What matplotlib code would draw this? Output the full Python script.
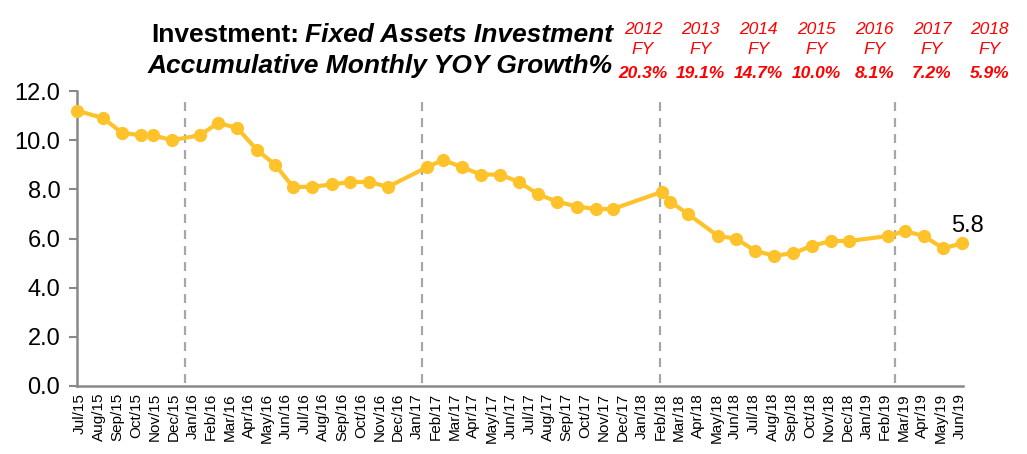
import numpy as np
import matplotlib
matplotlib.use('Agg')
import matplotlib.pyplot as plt

plt.rcParams['font.family'] = ['Liberation Sans', 'DejaVu Sans']

# Data
months = ['Jan', 'Feb', 'Mar', 'Apr', 'May', 'Jun', 'Jul', 'Aug', 'Sep', 'Oct', 'Nov', 'Dec']
tick_labels = []
for yr in range(15, 20):
    for m in months:
        tick_labels.append(f"{m}/{yr}")
tick_labels = tick_labels[6:54]  # Jul/15 .. Jun/19

# point positions (in month slots from Jul/15) and accumulated YOY growth
x_pos = [-0.16, 1.23, 2.24, 3.26, 3.90, 4.91,
         6.41, 7.37, 8.39, 9.46, 10.42, 11.38, 12.39, 13.46, 14.42, 15.44, 16.45,
         18.54, 19.39, 20.41, 21.42, 22.44, 23.45, 24.47, 25.48, 26.55, 27.56, 28.47,
         31.09, 31.52, 32.48, 34.08, 35.04, 36.06, 37.07, 38.09, 39.10, 40.12, 41.08,
         43.16, 44.07, 45.09, 46.10, 47.12]
fai_growth = [11.2, 10.9, 10.3, 10.2, 10.2, 10.0,
              10.2, 10.7, 10.5, 9.6, 9.0, 8.1, 8.1, 8.2, 8.3, 8.3, 8.1,
              8.9, 9.2, 8.9, 8.6, 8.6, 8.3, 7.8, 7.5, 7.3, 7.2, 7.2,
              7.9, 7.5, 7.0, 6.1, 6.0, 5.5, 5.3, 5.4, 5.7, 5.9, 5.9,
              6.1, 6.3, 6.1, 5.6, 5.8]
year_lines = [5.61, 18.27, 30.98, 43.54]

fy_years = ['2012', '2013', '2014', '2015', '2016', '2017', '2018']
fy_growth = ['20.3%', '19.1%', '14.7%', '10.0%', '8.1%', '7.2%', '5.9%']

W, H = 1027, 454
fig = plt.figure(figsize=(W / 100, H / 100), dpi=100, facecolor='white')
ax = fig.add_axes([77 / W, 1 - 386 / H, (963 - 77) / W, (386 - 91) / H])

gold = '#FEC22A'
for xv in year_lines:
    ax.axvline(xv, ymin=0.01, ymax=0.985, color='#A6A6A6', linewidth=1.6,
               linestyle=(0, (4, 3.2)), zorder=1)
ax.plot(x_pos, fai_growth, color=gold, linewidth=3, marker='o', markersize=8.5,
        markeredgecolor=gold, clip_on=False, zorder=3)
ax.text(x_pos[-1] - 0.6, fai_growth[-1] + 0.27, f"{fai_growth[-1]:.1f}", fontsize=17,
        ha='left', va='bottom', color='black')

ax.set_xlim(-0.16, 47.17)
ax.set_ylim(0, 12)
ax.set_yticks(np.arange(0, 12.1, 2))
ax.set_yticklabels([f"{v:.1f}" for v in np.arange(0, 12.1, 2)], fontsize=17)
ax.set_xticks(range(len(tick_labels)))
ax.set_xticklabels(tick_labels, rotation=90, fontsize=11)
ax.tick_params(axis='x', length=0, pad=5)
ax.tick_params(axis='y', length=6, width=1.5, color='#898989', pad=6, direction='out')
for s in ['top', 'right']:
    ax.spines[s].set_visible(False)
for s in ['left', 'bottom']:
    ax.spines[s].set_color('#898989')
    ax.spines[s].set_linewidth(1.8)

# title
fig.canvas.draw()
r = fig.canvas.get_renderer()
t1 = fig.text(613 / W, 1 - 35 / H, 'Fixed Assets Investment', ha='right', va='center',
              fontsize=19, weight='bold', style='italic')
bb = t1.get_window_extent(r)
fig.text((bb.x0 - 6) / W, 1 - 35 / H, 'Investment:', ha='right', va='center',
         fontsize=19, weight='bold')
fig.text(613 / W, 1 - 66 / H, 'Accumulative Monthly YOY Growth%', ha='right', va='center',
         fontsize=19, weight='bold', style='italic')

# FY annotations
for i, (yr, g) in enumerate(zip(fy_years, fy_growth)):
    cx = (643 + 57.8 * i) / W
    fig.text(cx, 1 - 29 / H, yr, ha='center', va='center', fontsize=12.5,
             style='italic', color='#FF0000')
    fig.text(cx, 1 - 50 / H, 'FY', ha='center', va='center', fontsize=12.5,
             style='italic', color='#FF0000')
    fig.text(cx, 1 - 73 / H, g, ha='center', va='center', fontsize=12.5,
             style='italic', weight='bold', color='#FF0000')

fig.savefig('out.png', dpi=100, facecolor='white')
